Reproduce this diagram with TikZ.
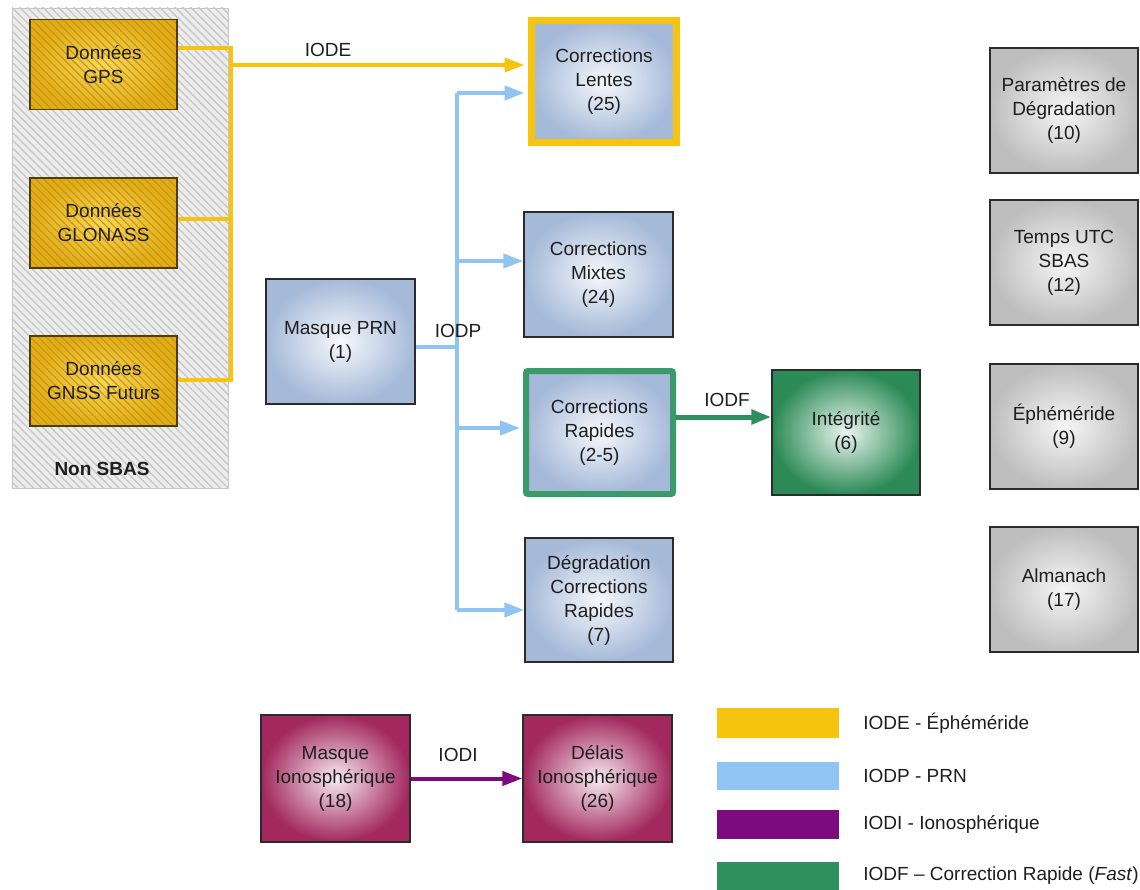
\documentclass[tikz,border=0pt]{standalone}
\usepackage{fontspec}
\setmainfont{Liberation Sans}
\usetikzlibrary{arrows.meta,patterns.meta}

% line and swatch colours
\definecolor{ylw}{HTML}{F6C30E}
\definecolor{lblue}{HTML}{90C4F2}
\definecolor{purp}{HTML}{7E0A80}
\definecolor{grn}{HTML}{2F8F5E}
\definecolor{grnB}{HTML}{3A9A6A}
% box colours
\definecolor{boxline}{HTML}{2B2B2B}
\definecolor{txt}{HTML}{1E1E1E}
\definecolor{blueOut}{HTML}{A5B9D8}
\definecolor{blueIn}{HTML}{F6F8FC}
\definecolor{goldOut}{HTML}{E0AC18}
\definecolor{goldIn}{HTML}{F7D75C}
\definecolor{goldLine}{HTML}{4E3C08}
\definecolor{goldHatch}{HTML}{C8960C}
\definecolor{greenOut}{HTML}{2B8A56}
\definecolor{greenIn}{HTML}{EAF5EE}
\definecolor{plumOut}{HTML}{A2285E}
\definecolor{plumIn}{HTML}{F7EAF1}
\definecolor{grayOut}{HTML}{BEBEBE}
\definecolor{grayIn}{HTML}{F6F6F6}
\definecolor{panelFill}{HTML}{ECECEC}
\definecolor{panelHatch}{HTML}{C6C6C6}

\begin{document}
\begin{tikzpicture}[x=1pt,y=-1pt,
  basefont/.style={font=\fontsize{19}{24}\selectfont},
  box/.style={rectangle, draw=boxline, line width=1.3pt, inner sep=0pt,
    align=center, text=txt, basefont,
    minimum width=149pt, minimum height=125pt},
  bluebox/.style={box, inner color=blueIn, outer color=blueOut},
  greenbox/.style={box, inner color=greenIn, outer color=greenOut},
  plumbox/.style={box, inner color=plumIn, outer color=plumOut},
  graybox/.style={box, inner color=grayIn, outer color=grayOut, minimum width=148pt},
  goldbox/.style={box, draw=goldLine, inner color=goldIn, outer color=goldOut,
    minimum width=147pt, minimum height=90pt,
    postaction={pattern={Lines[angle=-45,distance=5.5pt,line width=1.1pt]},
                pattern color=goldHatch},
    postaction={draw=goldLine, line width=1.3pt}},
  linkE/.style={draw=ylw, line width=4pt},
  linkP/.style={draw=lblue, line width=4pt},
  tip/.style={-{Triangle[length=20pt,width=14pt]}},
  lbl/.style={text=txt, basefont, inner sep=0pt},
  swatch/.style={rectangle, inner sep=0pt, minimum width=122pt},
  lgtext/.style={text=txt, basefont, inner sep=0pt, anchor=west}
]
\useasboundingbox (0,0) rectangle (1140,890);

% hatched panel of the non-SBAS sources
\node[rectangle, draw=panelHatch, line width=0.8pt, fill=panelFill,
  minimum width=216pt, minimum height=480pt, inner sep=0pt,
  postaction={pattern={Lines[angle=-45,distance=5.5pt,line width=1.3pt]},
              pattern color=panelHatch},
  postaction={draw=panelHatch, line width=0.8pt}] (panel) at (120,248) {};
\node[lbl, font=\fontsize{19}{24}\selectfont\bfseries] (nonsbas) at (102,469) {Non SBAS};

\node[goldbox] (gps)     at (103.5,64.5) {Données\\GPS};
\node[goldbox] (glonass) at (103.5,223)  {Données\\GLONASS};
\node[goldbox] (futurs)  at (103.5,381)  {Données\\GNSS Futurs};

% corrections fed by the PRN mask
\node[bluebox, draw=ylw, line width=7pt, minimum width=145pt, minimum height=122pt]
  (lentes) at (604,81.5) {Corrections\\Lentes\\(25)};
\node[bluebox] (mixtes) at (598.5,274.5) {Corrections\\Mixtes\\(24)};
\node[bluebox, draw=grnB, line width=6pt, rounded corners=2pt,
  minimum width=147pt, minimum height=123pt]
  (rapides) at (599.5,432.5) {Corrections\\Rapides\\(2-5)};
\node[bluebox, minimum width=148pt, minimum height=124pt] (degr) at (599,600) {Dégradation\\Corrections\\Rapides\\(7)};
\node[bluebox] (prn) at (340.5,341.5) {Masque PRN\\(1)};
\node[greenbox, minimum width=148pt] (integ) at (846,432.5) {Intégrité\\(6)};

% independent messages
\node[graybox] (params) at (1064,110.5) {Paramètres de\\Dégradation\\(10)};
\node[graybox] (utc)    at (1064,262.5) {Temps UTC\\SBAS\\(12)};
\node[graybox] (eph)    at (1064,426.5) {Éphéméride\\(9)};
\node[graybox] (alm)    at (1064,589.5) {Almanach\\(17)};

% ionospheric messages
\node[plumbox, minimum height=127pt] (miono)  at (335.5,778.5) {Masque\\Ionosphérique\\(18)};
\node[plumbox, minimum height=127pt] (delais) at (597.5,778.5) {Délais\\Ionosphérique\\(26)};

% IODE bus
\coordinate (ya) at (231,48);
\coordinate (yb) at (231,219);
\coordinate (yc) at (231,380);
\coordinate (yd) at (231,65);
\draw[linkE] (ya -| gps.east) -- (ya) -- (yc) -- (yc -| futurs.east);
\draw[linkE] (yb -| glonass.east) -- (yb);
\draw[linkE, tip, shorten >=3.5pt] (yd) -- (yd -| lentes.west);
\node[lbl] (iode) at (328,50) {IODE};

% IODP bus
\coordinate (b0) at (457,347);
\coordinate (b1) at (457,93);
\coordinate (b2) at (457,261);
\coordinate (b3) at (457,428);
\coordinate (b4) at (457,610);
\draw[linkP] (b0 -| prn.east) -- (b0);
\draw[linkP] (b1) -- (b4);
\draw[linkP, tip, shorten >=3.5pt] (b1) -- (b1 -| lentes.west);
\draw[linkP, tip] (b2) -- (b2 -| mixtes.west);
\draw[linkP, tip, shorten >=3pt] (b3) -- (b3 -| rapides.west);
\draw[linkP, tip] (b4) -- (b4 -| degr.west);
\node[lbl] (iodp) at (458,331) {IODP};

% IODF link
\coordinate (f0) at (676,417);
\draw[draw=grn, line width=5pt, tip] (f0) -- (f0 -| integ.west);
\node[lbl] (iodf) at (727,400) {IODF};

% IODI link
\draw[draw=purp, line width=4pt, tip] (miono) -- (delais);
\node[lbl] (iodi) at (458,755) {IODI};

% legend
\node[swatch, fill=ylw, minimum height=30pt] (lgE) at (778,723) {};
\node[swatch, fill=lblue, minimum height=28pt] (lgP) at (778,776) {};
\node[swatch, fill=purp, minimum height=29pt] (lgI) at (778,824.5) {};
\node[swatch, fill=grn, minimum height=28pt] (lgF) at (778,876) {};
\node[lgtext] (tE) at ([xshift=24pt]lgE.east) {IODE - Éphéméride};
\node[lgtext] (tP) at ([xshift=24pt]lgP.east) {IODP - PRN};
\node[lgtext] (tI) at ([xshift=24pt]lgI.east) {IODI - Ionosphérique};
\node[lgtext] (tF) at ([xshift=24pt]lgF.east) {IODF – Correction Rapide (\textit{Fast})};
\end{tikzpicture}
\end{document}
